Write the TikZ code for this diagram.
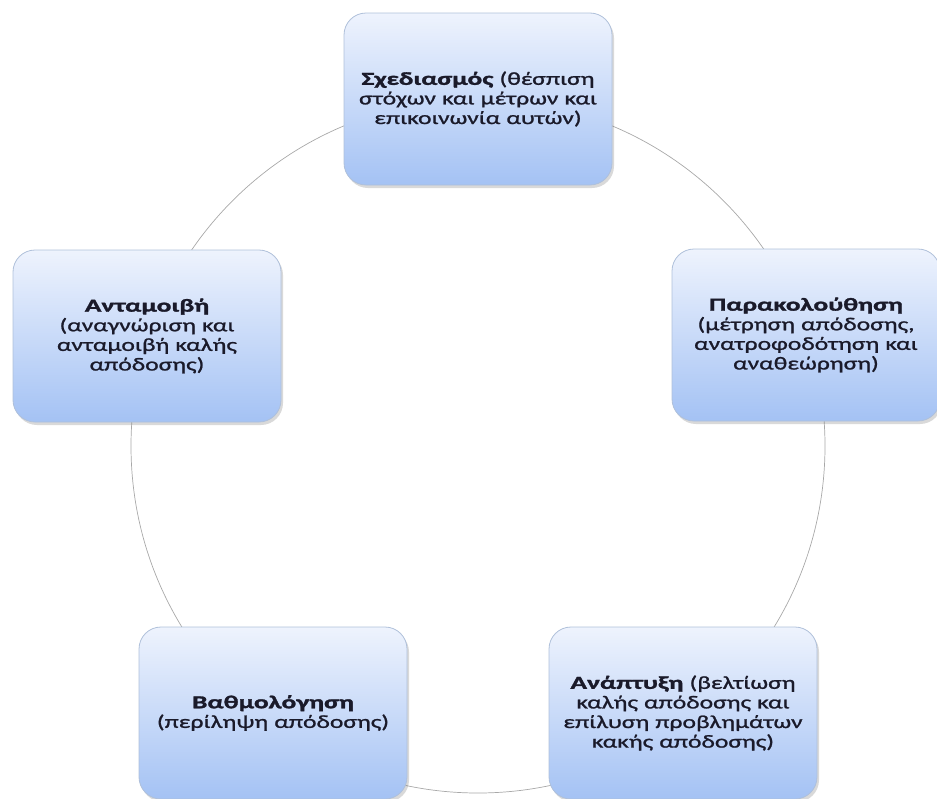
\documentclass[tikz,border=0pt]{standalone}
\usepackage{fontspec}
\setmainfont{Carlito}[FakeStretch=1.40, FakeBold=1.2, BoldFeatures={FakeStretch=1.50, FakeBold=1.6}]
\usetikzlibrary{shadows}
\definecolor{boxtop}{HTML}{EEF3FD}
\definecolor{boxbot}{HTML}{A4C2F4}
\definecolor{boxline}{HTML}{AFC0DA}
\definecolor{ringcol}{HTML}{A8A8A8}
\definecolor{txt}{HTML}{1A1A2A}
\tikzset{
  stage/.style={draw=boxline, line width=0.8pt, rounded corners=22pt,
    top color=boxtop, bottom color=boxbot,
    minimum width=266pt, minimum height=172pt, inner sep=3pt,
    text width=262pt, align=center, text=txt,
    font=\fontsize{18.3}{19.6}\selectfont,
    drop shadow={shadow xshift=2pt, shadow yshift=-3pt, opacity=0.25, fill=black!60}},
  ring/.style={draw=ringcol, line width=0.7pt}
}
\begin{document}
\begin{tikzpicture}[x=1pt,y=-1pt]
\useasboundingbox (0,0) rectangle (937,798);
\coordinate (c) at (478,446);
\draw[ring] (c) circle[radius=347];
\node[stage] (plan) at (478,99) {\textbf{Σχεδιασμός} (θέσπιση\\στόχων και μέτρων και\\επικοινωνία αυτών)};
\node[stage] (mon) at (806,335) {\textbf{Παρακολούθηση}\\(μέτρηση απόδοσης,\\ανατροφοδότηση και\\αναθεώρηση)};
\node[stage] (dev) at (683,713) {\textbf{Ανάπτυξη} (βελτίωση\\καλής απόδοσης και\\επίλυση προβλημάτων\\κακής απόδοσης)};
\node[stage] (rate) at (273,713) {\textbf{Βαθμολόγηση}\\(περίληψη απόδοσης)};
\node[stage] (rew) at (147,336) {\textbf{Ανταμοιβή}\\(αναγνώριση και\\ανταμοιβή καλής\\απόδοσης)};
\end{tikzpicture}
\end{document}
